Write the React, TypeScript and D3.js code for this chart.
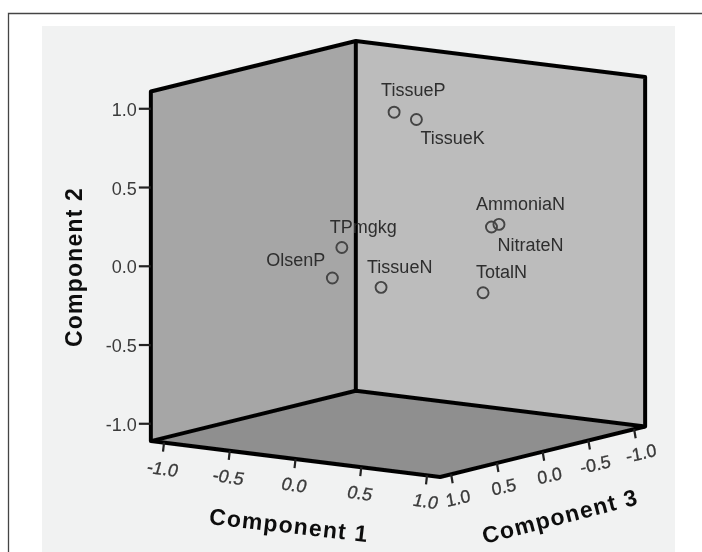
import React from "react";
import * as d3 from "d3";

const names = ["TissueP", "TissueK", "AmmoniaN", "NitrateN", "TotalN", "TissueN", "TPmgkg", "OlsenP"];
const comp1 = [0.2, 0.3, 0.9, 0.85, 0.8, 0.4, -0.1, -0.2];
const comp2 = [1.0, 0.95, 0.34, 0.32, -0.1, -0.03, 0.13, -0.08];
const comp3 = [0.33, 0.23, 0.19, 0.2, 0.22, 0.76, 0.47, 0.43];
const labelDx = [-13, 4, -23, 6, -7, -14, -12, -66];
const labelDy = [-16, 25, -14, 24, -15, -14, -14, -12];
const ticks = [-1, -0.5, 0, 0.5, 1];

const X_MAX = 1.1, Z_MAX = 1.12, Y_MAX = 1.11;

const x1 = d3.scaleLinear().domain([-1, 1]).range([-131.5, 131.5]);
const y1 = d3.scaleLinear().domain([-1, 1]).range([-16.3, 16.3]);
const x3 = d3.scaleLinear().domain([-1, 1]).range([91.5, -91.5]);
const y3 = d3.scaleLinear().domain([-1, 1]).range([-22.5, 22.5]);
const y2 = d3.scaleLinear().domain([-1, 1]).range([157.5, -157.5]);

const project = (a: number, b: number, c: number): [number, number] => [
  398 + x1(a) + x3(c),
  259 + y1(a) + y3(c) + y2(b),
];
const poly = (pts: [number, number][]) => d3.line()(pts)! + "Z";

export default function App() {
  const L = (b: number) => project(-X_MAX, b, Z_MAX);
  const F = (b: number) => project(X_MAX, b, Z_MAX);
  const R = (b: number) => project(X_MAX, b, -Z_MAX);
  const B = (b: number) => project(-X_MAX, b, -Z_MAX);
  const ink = "#050505";
  const txt = "#3a3a3a";
  const edge = { stroke: ink, strokeWidth: 4, strokeLinejoin: "round" as const, fill: "none" };
  const font = "'Liberation Sans', Arial, sans-serif";
  return (
    <svg width={702} height={552} style={{ position: "fixed", left: 0, top: 0, background: "#fff" }} fontFamily={font}>
      <defs>
        <filter id="soft" x="-5%" y="-5%" width="110%" height="110%">
          <feGaussianBlur stdDeviation="0.5" />
        </filter>
      </defs>
      <g filter="url(#soft)">
        <path d="M8.5 552V13.5H702" fill="none" stroke="#444" strokeWidth={1.3} />
        <rect x={42} y={26} width={633} height={526} fill="#f1f2f2" />
        <path d={poly([L(-Y_MAX), L(Y_MAX), B(Y_MAX), B(-Y_MAX)])} fill="#a6a6a6" />
        <path d={poly([B(-Y_MAX), B(Y_MAX), R(Y_MAX), R(-Y_MAX)])} fill="#bcbcbc" />
        <path d={poly([L(-Y_MAX), B(-Y_MAX), R(-Y_MAX), F(-Y_MAX)])} fill="#8f8f8f" />
        <path d={poly([L(-Y_MAX), L(Y_MAX), B(Y_MAX), R(Y_MAX), R(-Y_MAX), F(-Y_MAX)])} {...edge} />
        <path d={d3.line()([B(Y_MAX), B(-Y_MAX)])!} {...edge} />
        <path d={d3.line()([L(-Y_MAX), B(-Y_MAX), R(-Y_MAX)])!} {...edge} />

        {ticks.map((t) => {
          const [px, py] = project(-X_MAX, t, Z_MAX);
          return (
            <g key={"y" + t}>
              <line x1={px - 12} x2={px} y1={py} y2={py} stroke="#222" strokeWidth={2.2} />
              <text x={px - 14} y={py + 7} textAnchor="end" fontSize={18} fill={txt}>
                {t.toFixed(1)}
              </text>
            </g>
          );
        })}
        {ticks.map((t) => {
          const [px, py] = project(t, -Y_MAX, Z_MAX);
          return (
            <g key={"x" + t}>
              <line x1={px} x2={px - 1} y1={py} y2={py + 9} stroke="#222" strokeWidth={2.2} />
              <text
                transform={`translate(${px - 3},${py + 32}) rotate(8) skewX(-8)`}
                textAnchor="middle"
                fontSize={18}
                fill={txt}
                stroke={txt}
                strokeWidth={0.3}
              >
                {t.toFixed(1)}
              </text>
            </g>
          );
        })}
        {ticks.map((t) => {
          const [px, py] = project(X_MAX, -Y_MAX, t);
          return (
            <g key={"z" + t}>
              <line x1={px} x2={px + 1.5} y1={py} y2={py + 9} stroke="#222" strokeWidth={2.2} />
              <text
                transform={`translate(${px + 8},${py + 30}) rotate(-13) skewX(-3)`}
                textAnchor="middle"
                fontSize={18}
                fill={txt}
                stroke={txt}
                strokeWidth={0.3}
              >
                {t.toFixed(1)}
              </text>
            </g>
          );
        })}

        <text transform="translate(82,267) rotate(-90)" textAnchor="middle" fontSize={23} fontWeight={700} letterSpacing={1.2} fill="#111">
          Component 2
        </text>
        <text transform="translate(288,533) rotate(6.5)" textAnchor="middle" fontSize={23} fontWeight={700} letterSpacing={1.2} fill="#111">
          Component 1
        </text>
        <text transform="translate(562,524) rotate(-14.5)" textAnchor="middle" fontSize={23} fontWeight={700} letterSpacing={1.2} fill="#111">
          Component 3
        </text>

        {names.map((n, i) => {
          const [px, py] = project(comp1[i], comp2[i], comp3[i]);
          return (
            <g key={n}>
              <circle cx={px} cy={py} r={5.5} fill="none" stroke="#444" strokeWidth={1.9} />
              <text x={px + labelDx[i]} y={py + labelDy[i]} fontSize={18} fill="#2e2e2e">
                {n}
              </text>
            </g>
          );
        })}
      </g>
    </svg>
  );
}
